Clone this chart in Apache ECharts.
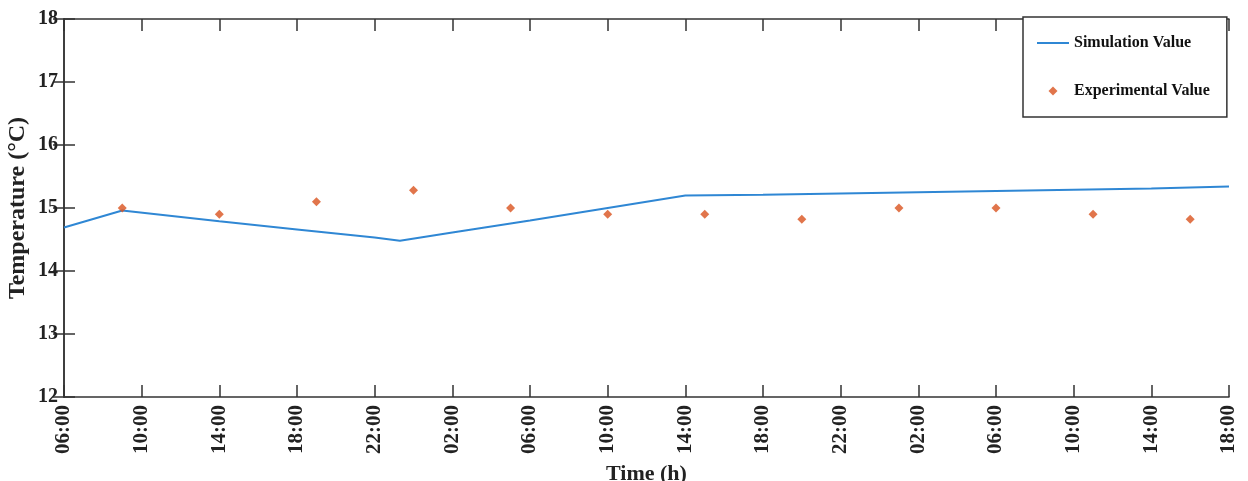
<!DOCTYPE html>
<html>
<head>
<meta charset="utf-8">
<script src="https://cdn.jsdelivr.net/npm/echarts@6/dist/echarts.min.js"></script>
<style>
  html, body { margin: 0; padding: 0; background: #fff; }
  #chart { width: 1248px; height: 481px; }
</style>
</head>
<body>
<div id="chart"></div>
<script>
// hours since 06:00 on day 1
const simHours = [0, 3, 8, 12, 16, 17.3, 20, 24, 28, 32, 36, 40, 44, 48, 52, 56, 60];
const simTemps = [14.69, 14.96, 14.79, 14.66, 14.53, 14.48, 14.61, 14.80, 15.00, 15.20, 15.21, 15.23, 15.25, 15.27, 15.29, 15.31, 15.34];

const expHours = [3, 8, 13, 18, 23, 28, 33, 38, 43, 48, 53, 58];
const expTemps = [15.0, 14.9, 15.1, 15.28, 15.0, 14.9, 14.9, 14.82, 15.0, 15.0, 14.9, 14.82];

const startHour = 6;
const axisColor = '#333';
const font = '"Liberation Serif", "Times New Roman", serif';

function hourLabel(v) {
    const h = (startHour + v) % 24;
    return (h < 10 ? '0' : '') + h + ':00';
}

const chart = echarts.init(document.getElementById('chart'));

const option = {
    animation: false,
    grid: { left: 64, right: 19, top: 19, bottom: 84, outerBoundsMode: 'none' },
    legend: {
        orient: 'vertical',
        left: 1023,
        top: 17,
        padding: [18, 17, 18, 14],
        itemGap: 32,
        itemWidth: 32,
        itemHeight: 14,
        backgroundColor: '#fff',
        borderColor: axisColor,
        borderWidth: 1.5,
        textStyle: { fontFamily: font, fontWeight: 'bold', fontSize: 16, color: '#111', lineHeight: 16 },
        data: [
            { name: 'Simulation Value', icon: 'path://M0,0 L32,0 L32,2 L0,2 Z' },
            { name: 'Experimental Value', icon: 'path://M0,0 M32,14 M16,2.5 L20.5,7 L16,11.5 L11.5,7 Z' }
        ]
    },
    xAxis: [{
        type: 'value',
        min: 0,
        max: 60,
        interval: 4,
        name: 'Time (h)',
        nameLocation: 'middle',
        nameGap: 66,
        nameMoveOverlap: false,
        nameTextStyle: { fontFamily: font, fontWeight: 'bold', fontSize: 22, color: '#222' },
        axisLine: { lineStyle: { color: axisColor, width: 1.5 } },
        axisTick: { inside: true, length: 12, lineStyle: { color: axisColor, width: 1.5 } },
        axisLabel: {
            rotate: 90,
            margin: 8,
            showMinLabel: true,
            showMaxLabel: true,
            fontFamily: font,
            fontWeight: 'bold',
            fontSize: 21,
            color: '#222',
            formatter: hourLabel
        },
        splitLine: { show: false }
    }, {
        type: 'value',
        position: 'top',
        min: 0,
        max: 60,
        interval: 4,
        axisLine: { show: true, lineStyle: { color: axisColor, width: 1.5 } },
        axisTick: { inside: true, length: 12, lineStyle: { color: axisColor, width: 1.5 } },
        axisLabel: { show: false },
        splitLine: { show: false }
    }],
    yAxis: [{
        type: 'value',
        min: 12,
        max: 18,
        interval: 1,
        name: 'Temperature (°C)',
        nameLocation: 'middle',
        nameGap: 34,
        nameMoveOverlap: false,
        nameTextStyle: { fontFamily: font, fontWeight: 'bold', fontSize: 24, color: '#222' },
        axisLine: { show: true, lineStyle: { color: axisColor, width: 1.5 } },
        axisTick: { show: true, inside: true, length: 11, lineStyle: { color: axisColor, width: 1.5 } },
        axisLabel: { margin: 6, fontFamily: font, fontWeight: 'bold', fontSize: 20, color: '#222' },
        splitLine: { show: false }
    }, {
        type: 'value',
        position: 'right',
        min: 12,
        max: 18,
        interval: 1,
        axisLine: { show: true, lineStyle: { color: axisColor, width: 1.5 } },
        axisTick: { show: true, inside: true, length: 11, lineStyle: { color: axisColor, width: 1.5 } },
        axisLabel: { show: false },
        splitLine: { show: false }
    }],
    series: [{
        name: 'Simulation Value',
        type: 'line',
        data: simHours.map((h, i) => [h, simTemps[i]]),
        showSymbol: false,
        lineStyle: { color: '#2f87d4', width: 2 },
        itemStyle: { color: '#2f87d4' },
        z: 3
    }, {
        name: 'Experimental Value',
        type: 'scatter',
        data: expHours.map((h, i) => [h, expTemps[i]]),
        symbol: 'diamond',
        symbolSize: 9,
        itemStyle: { color: '#d9531e' },
        z: 4
    }]
};

chart.setOption(option);
</script>
</body>
</html>
